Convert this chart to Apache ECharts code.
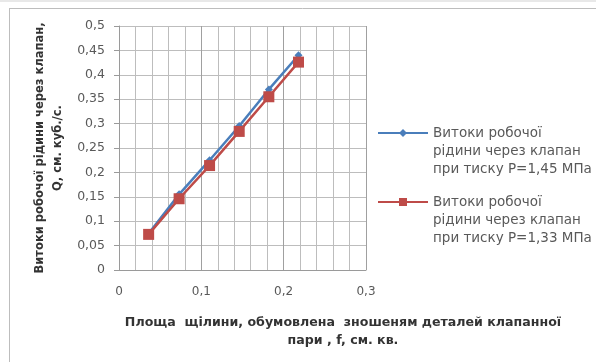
<!DOCTYPE html>
<html lang="uk">
<head>
  <meta charset="UTF-8">
  <script src="https://cdn.jsdelivr.net/npm/echarts@6/dist/echarts.min.js"></script>
  <title>Витоки робочої рідини</title>
</head>
<body>
  <div id="chart"></div>
</body>
<style>
  html,body{
    padding: 0;
    margin: 0;
    background: #fff;
  }
  #chart {
    width: 596px;
    height: 362px;
  }
</style>
</html>
<script>
// площа щілини f, см. кв.
const fData = [0.036, 0.073, 0.11, 0.146, 0.182, 0.218]
// витоки Q при P=1,45 МПа
const q145 = [0.075, 0.155, 0.225, 0.295, 0.37, 0.44]
// витоки Q при P=1,33 МПа
const q133 = [0.073, 0.146, 0.214, 0.284, 0.355, 0.426]

const name145 = 'Витоки робочої рідини через клапан при тиску Р=1,45 МПа'
const name133 = 'Витоки робочої рідини через клапан при тиску Р=1,33 МПа'

const font = '"DejaVu Sans", sans-serif'
const comma = v => String(v).replace('.', ',')

// two empty lines on top so the icon sits next to the first text line
const legendBase = {
  left: 377,
  padding: 0,
  orient: 'vertical',
  itemWidth: 50,
  itemHeight: 10,
  itemGap: 0,
  textStyle: {
    fontFamily: font,
    fontSize: 13.5,
    color: '#595959',
    lineHeight: 18
  },
  formatter: (name) => {
    const p = name.split(' ')
    return '\n\n' + p.slice(0, 2).join(' ') + '\n' + p.slice(2, 5).join(' ') + '\n' + p.slice(5).join(' ')
  }
}

let option = {
  animation: false,
  textStyle: { fontFamily: font },
  graphic: [
    { type: 'rect', shape: { x: 0, y: 0, width: 596, height: 2 }, style: { fill: '#e8e8e8' } },
    { type: 'line', shape: { x1: 9, y1: 8.5, x2: 596, y2: 8.5 }, style: { stroke: '#bdbdbd', lineWidth: 1 } },
    { type: 'line', shape: { x1: 9.5, y1: 8, x2: 9.5, y2: 362 }, style: { stroke: '#bdbdbd', lineWidth: 1 } }
  ],
  title: {
    text: 'Площа  щілини, обумовлена  зношеням деталей клапанної\nпари , f, см. кв.',
    left: 338,
    top: 309,
    textAlign: 'center',
    textStyle: {
      fontFamily: font,
      fontSize: 12.6,
      fontWeight: 'bold',
      color: '#333',
      lineHeight: 18
    }
  },
  legend: [
    Object.assign({}, legendBase, { top: 88, data: [name145] }),
    Object.assign({}, legendBase, { top: 157, data: [name133] })
  ],
  grid: {
    left: 119,
    right: 230,
    top: 26,
    bottom: 92
  },
  xAxis: {
    type: 'value',
    min: 0,
    max: 0.3,
    interval: 0.1,
    axisLine: { show: true, lineStyle: { color: '#9a9a9a' } },
    axisTick: { show: false },
    axisLabel: {
      margin: 16,
      fontSize: 12,
      color: '#595959',
      formatter: comma
    },
    splitLine: { show: true, lineStyle: { color: '#a0a0a0', width: 1 } },
    minorTick: { show: false, splitNumber: 5 },
    minorSplitLine: { show: true, lineStyle: { color: '#bdbdbd', width: 1 } }
  },
  yAxis: {
    type: 'value',
    min: 0,
    max: 0.5,
    interval: 0.05,
    name: 'Витоки робочої рідини через клапан,\nQ, см. куб./с.',
    nameLocation: 'middle',
    nameGap: 52,
    nameRotate: 90,
    nameTextStyle: {
      fontSize: 11.5,
      fontWeight: 'bold',
      color: '#333',
      lineHeight: 18
    },
    axisLine: { show: true, lineStyle: { color: '#9a9a9a' } },
    axisTick: { show: true, length: 5, lineStyle: { color: '#9a9a9a' } },
    axisLabel: {
      margin: 14,
      fontSize: 12.5,
      color: '#595959',
      formatter: comma
    },
    splitLine: { show: true, lineStyle: { color: '#bdbdbd', width: 1 } }
  },
  series: [
    {
      name: name145,
      type: 'line',
      data: fData.map((f, i) => [f, q145[i]]),
      symbol: 'diamond',
      symbolSize: 8,
      lineStyle: { width: 2.5, color: '#4a7ebb' },
      itemStyle: { color: '#4a7ebb' }
    },
    {
      name: name133,
      type: 'line',
      data: fData.map((f, i) => [f, q133[i]]),
      symbol: 'rect',
      symbolSize: 11,
      lineStyle: { width: 2.5, color: '#be4b48' },
      itemStyle: { color: '#be4b48' }
    }
  ]
};

const chartDom = document.getElementById('chart');
const myChart = echarts.init(chartDom);
option && myChart.setOption(option);
</script>
